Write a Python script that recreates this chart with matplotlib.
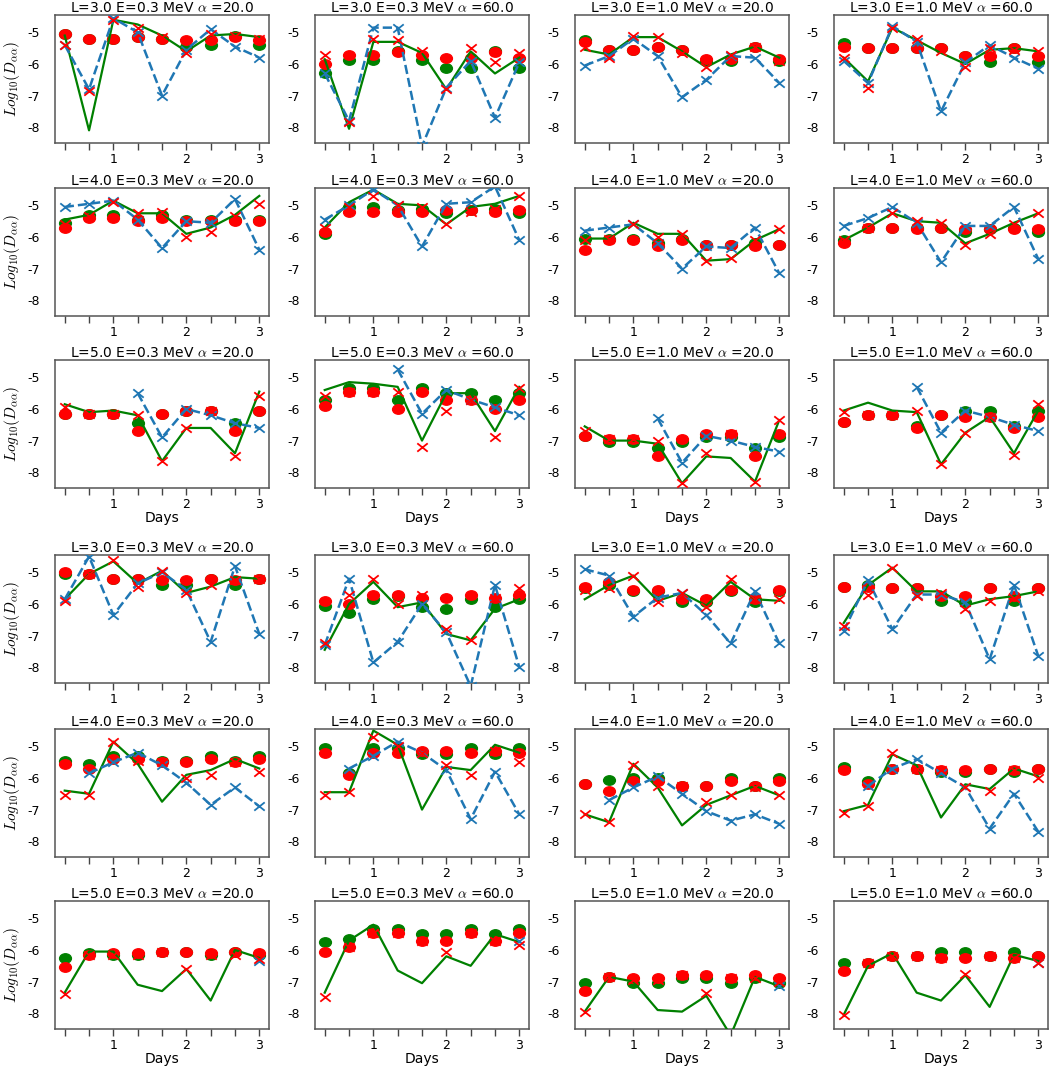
import numpy as np
import matplotlib
matplotlib.use("Agg")
import matplotlib.pyplot as plt
from matplotlib.path import Path
from matplotlib.transforms import Affine2D

plt.rcParams["axes.unicode_minus"] = False
plt.rcParams["mathtext.fontset"] = "cm"

nan = np.nan

days = np.arange(1, 10) / 3.0
day_labels = ["", "", "1", "", "", "2", "", "", "3"]
L_vals = [3.0, 4.0, 5.0, 3.0, 4.0, 5.0]
E_vals = [0.3, 0.3, 1.0, 1.0]
alpha_vals = [20.0, 60.0, 20.0, 60.0]

# one row of 9 values per panel, panels row by row (top group then bottom group)
green_line = [
    [-5.1, -8.1, -4.6, -4.75, -5.1, -5.6, -5.1, -5.05, -5.15],
    [-5.85, -8.05, -5.3, -5.3, -5.65, -6.8, -5.6, -6.3, -5.8],
    [-5.55, -5.7, -5.15, -5.15, -5.6, -6.1, -5.7, -5.45, -5.8],
    [-5.8, -6.55, -4.85, -5.25, -5.65, -6.0, -5.55, -5.5, -5.6],
    [-5.45, -5.3, -4.85, -5.25, -5.25, -5.9, -5.7, -5.3, -4.7],
    [-5.7, -4.9, -4.5, -4.95, -5.0, -5.6, -5.05, -4.95, -4.7],
    [-6.05, -6.05, -5.55, -5.9, -5.9, -6.75, -6.7, -6.1, -5.75],
    [-6.1, -5.7, -5.25, -5.5, -5.55, -6.2, -5.9, -5.55, -5.25],
    [-5.85, -6.1, -6.05, -6.2, -7.65, -6.6, -6.6, -7.4, -5.45],
    [-5.4, -5.15, -5.2, -5.3, -7.0, -5.5, -5.5, -6.7, -5.3],
    [-6.55, -7.0, -7.0, -7.1, -8.35, -7.5, -7.55, -8.3, -6.35],
    [-6.05, -5.8, -6.05, -6.1, -7.75, -6.75, -6.25, -7.4, -6.05],
    [-5.85, -5.05, -4.65, -5.35, -4.95, -5.65, -5.45, -5.15, -5.2],
    [-7.45, -6.0, -5.3, -6.1, -5.95, -6.95, -7.15, -6.15, -5.85],
    [-5.85, -5.4, -5.1, -5.9, -5.65, -6.05, -5.3, -5.85, -5.9],
    [-6.6, -5.4, -4.85, -5.6, -5.6, -6.05, -5.85, -5.75, -5.6],
    [-6.4, -6.5, -4.85, -5.55, -6.75, -5.9, -5.75, -5.4, -5.7],
    [-6.45, -6.45, -4.5, -4.95, -7.0, -5.65, -5.75, -4.95, -5.2],
    [-7.15, -7.4, -5.55, -6.3, -7.5, -6.85, -6.55, -6.25, -6.55],
    [-7.05, -6.85, -5.25, -5.6, -7.25, -6.2, -6.35, -5.7, -5.95],
    [-7.35, -6.05, -6.05, -7.1, -7.3, -6.6, -7.6, -6.0, -6.25],
    [-7.35, -5.7, -5.2, -6.65, -7.05, -6.2, -6.5, -5.5, -5.75],
    [-7.95, -6.85, -7.0, -7.9, -7.95, -7.45, -8.7, -6.85, -7.15],
    [-8.05, -6.5, -6.1, -7.35, -7.6, -6.8, -7.8, -6.15, -6.35],
]

blue_line = [
    [-5.4, -6.8, -4.55, -5.0, -7.0, -5.55, -4.9, -5.45, -5.8],
    [-6.3, -7.8, -4.85, -4.85, -8.6, -6.75, -5.9, -7.7, -5.95],
    [-6.05, -5.75, -5.2, -5.75, -7.05, -6.5, -5.75, -5.8, -6.6],
    [-5.9, -6.6, -4.8, -5.3, -7.5, -5.95, -5.4, -5.8, -6.15],
    [-5.05, -4.95, -4.85, -5.45, -6.35, -5.5, -5.55, -4.8, -6.4],
    [-5.45, -5.0, -4.5, -5.0, -6.3, -4.95, -4.9, -4.4, -6.1],
    [-5.8, -5.7, -5.6, -6.2, -7.0, -6.3, -6.35, -5.7, -7.15],
    [-5.65, -5.4, -5.05, -5.55, -6.8, -5.65, -5.65, -5.05, -6.7],
    [nan, nan, nan, -5.5, -6.9, -6.0, -6.2, -6.45, -6.6],
    [nan, nan, nan, -4.75, -6.15, -5.4, -5.7, -5.95, -6.2],
    [nan, nan, nan, -6.3, -7.7, -6.85, -7.0, -7.2, -7.35],
    [nan, nan, nan, -5.3, -6.75, -6.05, -6.25, -6.5, -6.7],
    [-5.85, -4.5, -6.35, -5.35, -5.0, -5.55, -7.2, -4.8, -6.95],
    [-7.3, -5.2, -7.85, -7.2, -6.0, -6.9, -8.6, -5.4, -8.0],
    [-4.9, -5.1, -6.4, -5.8, -5.65, -6.35, -7.25, -5.6, -7.25],
    [-6.85, -5.25, -6.8, -5.7, -5.7, -5.95, -7.75, -5.4, -7.65],
    [nan, -5.85, -5.5, -5.2, -5.6, -6.15, -6.85, -6.3, -6.9],
    [nan, -5.7, -5.3, -4.85, -5.2, -5.75, -7.3, -5.8, -7.15],
    [nan, -6.7, -6.3, -5.95, -6.5, -7.05, -7.35, -7.15, -7.45],
    [nan, -6.25, -5.7, -5.4, -5.85, -6.3, -7.6, -6.5, -7.7],
    [nan, nan, nan, nan, nan, nan, nan, nan, -6.35],
    [nan, nan, nan, nan, nan, nan, nan, nan, -5.7],
    [nan, nan, nan, nan, nan, nan, nan, nan, -7.15],
    [nan, nan, nan, nan, nan, nan, nan, nan, -6.4],
]

red_x = [
    [-5.4, -6.85, -4.6, -4.85, -5.15, -5.65, -5.05, -5.1, -5.2],
    [-5.7, -7.85, -5.2, -5.25, -5.6, -6.8, -5.5, -5.95, -5.65],
    [-5.45, -5.8, -5.1, -5.15, -5.65, -6.1, -5.7, -5.45, -5.9],
    [-5.8, -6.75, -4.85, -5.2, -5.6, -6.1, -5.5, -5.55, -5.6],
    [-5.6, -5.35, -4.9, -5.25, -5.2, -6.0, -5.85, -5.35, -4.95],
    [-5.7, -5.05, -4.7, -5.0, -5.05, -5.6, -5.2, -5.1, -4.7],
    [-6.1, -6.05, -5.6, -6.0, -5.9, -6.75, -6.65, -6.1, -5.75],
    [-6.1, -5.7, -5.25, -5.5, -5.55, -6.25, -5.9, -5.6, -5.25],
    [-5.95, -6.15, -6.15, -6.2, -7.65, -6.6, -6.05, -7.5, -5.6],
    [-5.6, -5.45, -5.45, -5.45, -7.2, -6.05, -5.7, -6.9, -5.35],
    [-6.7, -6.95, -6.95, -7.0, -8.35, -7.4, -6.8, -8.3, -6.35],
    [-6.1, -6.2, -6.2, -6.05, -7.75, -6.75, -6.25, -7.45, -5.85],
    [-5.9, -5.05, -4.6, -5.45, -4.95, -5.65, -5.4, -5.25, -5.2],
    [-7.25, -5.7, -5.2, -6.0, -5.7, -6.8, -7.15, -5.8, -5.5],
    [-5.55, -5.5, -5.1, -5.95, -5.65, -6.1, -5.2, -5.85, -5.85],
    [-6.7, -5.7, -4.85, -5.75, -5.65, -6.15, -5.9, -5.8, -5.6],
    [-6.55, -6.55, -4.85, -5.45, -5.5, -6.0, -5.9, -5.5, -5.8],
    [-6.55, -6.45, -4.7, -5.0, -5.2, -5.6, -5.9, -5.15, -5.5],
    [-7.15, -7.4, -5.6, -6.25, -6.25, -6.75, -6.55, -6.3, -6.55],
    [-7.1, -6.9, -5.2, -5.7, -5.75, -6.3, -6.4, -5.75, -6.0],
    [-7.4, -6.15, -6.15, -6.15, -6.05, -6.6, -6.15, -6.15, -6.3],
    [-7.5, -5.9, -5.45, -5.45, -5.7, -6.05, -5.45, -5.7, -5.85],
    [-7.95, -6.85, -6.95, -6.95, -6.8, -7.35, -6.9, -6.9, -7.0],
    [-8.05, -6.4, -6.2, -6.2, -6.25, -6.75, -6.2, -6.25, -6.4],
]

green_dot = [
    [-5.05, -5.2, -5.2, -5.15, -5.2, -5.45, -5.4, -5.1, -5.4],
    [-6.3, -5.87, -5.87, -5.6, -5.87, -6.12, -6.12, -5.6, -6.12],
    [-5.25, -5.55, -5.55, -5.45, -5.55, -5.9, -5.9, -5.45, -5.9],
    [-5.35, -5.5, -5.5, -5.5, -5.5, -5.75, -5.95, -5.5, -5.95],
    [-5.55, -5.3, -5.3, -5.45, -5.3, -5.45, -5.45, -5.45, -5.45],
    [-5.9, -5.05, -5.05, -5.15, -5.1, -5.25, -5.15, -5.1, -5.25],
    [-6.05, -6.05, -6.05, -6.2, -6.05, -6.25, -6.25, -6.2, -6.25],
    [-6.1, -5.7, -5.7, -5.7, -5.7, -5.85, -5.75, -5.7, -5.85],
    [-6.15, -6.15, -6.15, -6.45, -6.15, -6.05, -6.05, -6.45, -6.05],
    [-5.7, -5.35, -5.35, -5.7, -5.35, -5.5, -5.5, -5.7, -5.5],
    [-6.85, -7.05, -7.05, -7.25, -7.05, -6.9, -6.9, -7.25, -6.9],
    [-6.4, -6.2, -6.2, -6.55, -6.2, -6.05, -6.05, -6.55, -6.05],
    [-5.05, -5.05, -5.2, -5.2, -5.4, -5.4, -5.2, -5.4, -5.2],
    [-6.05, -6.3, -5.85, -5.75, -6.1, -6.15, -5.85, -6.1, -5.85],
    [-5.5, -5.4, -5.6, -5.6, -5.95, -5.95, -5.6, -5.95, -5.6],
    [-5.45, -5.4, -5.5, -5.5, -5.9, -5.95, -5.5, -5.9, -5.5],
    [-5.45, -5.55, -5.3, -5.3, -5.45, -5.45, -5.3, -5.45, -5.3],
    [-5.05, -5.85, -5.05, -5.05, -5.25, -5.25, -5.05, -5.25, -5.05],
    [-6.2, -6.05, -6.0, -6.0, -6.25, -6.25, -6.0, -6.25, -6.0],
    [-5.65, -6.1, -5.7, -5.7, -5.8, -5.8, -5.7, -5.8, -5.7],
    [-6.25, -6.1, -6.15, -6.15, -6.05, -6.05, -6.15, -6.05, -6.15],
    [-5.75, -5.65, -5.35, -5.35, -5.5, -5.5, -5.35, -5.5, -5.35],
    [-7.05, -6.85, -7.05, -7.05, -6.9, -6.9, -7.05, -6.9, -7.05],
    [-6.4, -6.4, -6.2, -6.2, -6.05, -6.05, -6.2, -6.05, -6.2],
]

red_dot = [
    [-5.05, -5.2, -5.2, -5.15, -5.2, -5.25, -5.25, -5.15, -5.25],
    [-6.0, -5.72, -5.72, -5.62, -5.72, -5.82, -5.82, -5.62, -5.82],
    [-5.3, -5.55, -5.55, -5.45, -5.55, -5.85, -5.85, -5.45, -5.85],
    [-5.45, -5.5, -5.5, -5.5, -5.5, -5.75, -5.75, -5.5, -5.75],
    [-5.7, -5.4, -5.4, -5.5, -5.4, -5.5, -5.5, -5.5, -5.5],
    [-5.85, -5.2, -5.2, -5.2, -5.2, -5.15, -5.15, -5.2, -5.15],
    [-6.4, -6.1, -6.1, -6.3, -6.1, -6.25, -6.25, -6.3, -6.25],
    [-6.2, -5.7, -5.7, -5.75, -5.7, -5.75, -5.75, -5.75, -5.75],
    [-6.15, -6.15, -6.15, -6.7, -6.15, -6.05, -6.05, -6.7, -6.05],
    [-5.9, -5.45, -5.45, -6.0, -5.45, -5.7, -5.7, -6.0, -5.7],
    [-6.85, -6.95, -6.95, -7.5, -6.95, -6.8, -6.8, -7.5, -6.8],
    [-6.4, -6.2, -6.2, -6.6, -6.2, -6.25, -6.25, -6.6, -6.25],
    [-5.0, -5.05, -5.2, -5.2, -5.25, -5.25, -5.2, -5.25, -5.2],
    [-5.9, -6.0, -5.7, -5.7, -5.8, -5.8, -5.7, -5.8, -5.7],
    [-5.45, -5.3, -5.55, -5.55, -5.85, -5.85, -5.55, -5.85, -5.55],
    [-5.45, -5.45, -5.5, -5.5, -5.75, -5.75, -5.5, -5.75, -5.5],
    [-5.55, -5.7, -5.4, -5.4, -5.5, -5.5, -5.4, -5.5, -5.4],
    [-5.2, -5.9, -5.2, -5.2, -5.15, -5.15, -5.2, -5.15, -5.2],
    [-6.2, -6.4, -6.1, -6.1, -6.25, -6.25, -6.1, -6.25, -6.1],
    [-5.75, -6.2, -5.7, -5.7, -5.75, -5.75, -5.7, -5.75, -5.7],
    [-6.55, -6.15, -6.1, -6.1, -6.05, -6.05, -6.1, -6.05, -6.1],
    [-6.05, -5.9, -5.45, -5.45, -5.7, -5.7, -5.45, -5.7, -5.45],
    [-7.3, -6.85, -6.9, -6.9, -6.8, -6.8, -6.9, -6.8, -6.9],
    [-6.65, -6.4, -6.2, -6.2, -6.25, -6.25, -6.2, -6.25, -6.2],
]

# the reference is stretched sideways, so use wide markers
wide_dot = Affine2D().scale(1.25, 1.0).transform_path(Path.unit_circle())
wide_x = Path([(-1.25, -1), (1.25, 1), (-1.25, 1), (1.25, -1)],
              [Path.MOVETO, Path.LINETO, Path.MOVETO, Path.LINETO])

W, H = 1052, 1066
fig = plt.figure(figsize=(W / 100, H / 100), dpi=100)

col_left = [55, 315, 575, 834]
row_top = [15, 188, 360, 555, 729, 901]
ax_w, ax_h = 214, 128

for r in range(6):
    for c in range(4):
        k = r * 4 + c
        ax = fig.add_axes([col_left[c] / W, (H - row_top[r] - ax_h) / H,
                           ax_w / W, ax_h / H])
        ax.plot(days, green_dot[k], ls="none", marker=wide_dot, ms=8.5,
                color="green", zorder=2)
        ax.plot(days, red_dot[k], ls="none", marker=wide_dot, ms=8.5,
                color="red", zorder=2.1)
        ax.plot(days, green_line[k], color="green", lw=1.6, zorder=3)
        ax.plot(days, blue_line[k], color="#1f77b4", ls="--", lw=1.8,
                marker=wide_x, ms=7.5, mew=1.3, zorder=3.1)
        ax.plot(days, red_x[k], ls="none", marker=wide_x, ms=7.5, mew=1.3,
                color="red", zorder=4)

        ax.set_ylim(-8.5, -4.45)
        ax.set_xlim(0.2, 3.133)
        ax.set_yticks([-8, -7, -6, -5])
        ax.set_yticklabels(["-8", "-7", "-6", "-5"])
        ax.set_xticks(days)
        ax.set_xticklabels(day_labels)
        ax.tick_params(axis="y", length=0, pad=11, labelsize=9)
        ax.tick_params(axis="x", length=5, width=1, pad=2, labelsize=9,
                       color="#444444")
        for sp in ax.spines.values():
            sp.set_color("#555555")
            sp.set_linewidth(1.1)

        ax.set_title(r"L=%.1f E=%.1f MeV $\alpha$ =%.1f"
                     % (L_vals[r], E_vals[c], alpha_vals[c]),
                     fontsize=10, pad=2)
        if c == 0:
            ax.set_ylabel(r"$Log_{10}(D_{\alpha\alpha})$", fontsize=11)
            ax.yaxis.set_label_coords(-0.155, 0.5)
        if r in (2, 5):
            ax.set_xlabel("Days", fontsize=10, labelpad=0)

fig.savefig("out.png", dpi=100)
